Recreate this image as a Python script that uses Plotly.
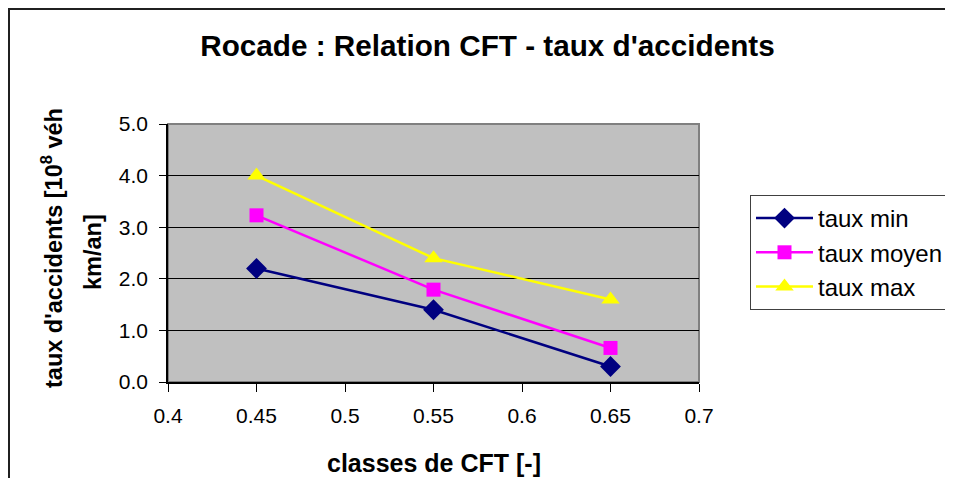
import plotly.graph_objects as go

cft = [0.45, 0.55, 0.65]
taux_min = [2.2, 1.4, 0.3]
taux_moyen = [3.23, 1.79, 0.66]
taux_max = [4.0, 2.4, 1.6]
x_ticks = [0.4, 0.45, 0.5, 0.55, 0.6, 0.65, 0.7]
x_labels = ["0.4", "0.45", "0.5", "0.55", "0.6", "0.65", "0.7"]
y_ticks = [0, 1, 2, 3, 4, 5]
y_labels = ["0.0", "1.0", "2.0", "3.0", "4.0", "5.0"]

# page body has an 8px margin; figure coordinates = screen - 8
OFF = 8
W, H = 937, 470
L, T = 168 - OFF, 124 - OFF
R = W - (699 - OFF)
B = H - (382 - OFF)
pw, ph = W - L - R, H - T - B


def px(xs):
    return (xs - OFF - L) / pw


def py(ys):
    return (H - B - (ys - OFF)) / ph


FONT = "Liberation Sans, Arial, sans-serif"

fig = go.Figure()
fig.add_trace(go.Scatter(x=cft, y=taux_min, name="taux min", mode="lines+markers",
                         line=dict(color="#000080", width=2.5),
                         marker=dict(symbol="diamond", size=16, color="#000080")))
fig.add_trace(go.Scatter(x=cft, y=taux_moyen, name="taux moyen", mode="lines+markers",
                         line=dict(color="#ff00ff", width=2.5),
                         marker=dict(symbol="square", size=14, color="#ff00ff")))
fig.add_trace(go.Scatter(x=cft, y=taux_max, name="taux max", mode="lines+markers",
                         line=dict(color="#ffff00", width=2.5),
                         marker=dict(symbol="triangle-up", size=16, color="#ffff00")))

fig.update_layout(
    width=W, height=H,
    margin=dict(l=L, r=R, t=T, b=B, autoexpand=False),
    paper_bgcolor="white",
    plot_bgcolor="#c0c0c0",
    font=dict(family=FONT, size=21, color="black"),
    showlegend=True,
    title=dict(text="<b>Rocade : Relation CFT - taux d'accidents</b>",
               x=(487.5 - OFF) / W, xref="container", xanchor="center",
               y=1 - (46 - OFF) / H, yref="container", yanchor="middle",
               font=dict(size=29.7)),
    xaxis=dict(range=[0.4, 0.7], tickvals=x_ticks, ticktext=x_labels,
               showgrid=False, zeroline=False, showline=True, linecolor="black",
               linewidth=1.5, ticks="outside", ticklen=8, tickcolor="black",
               ticklabelstandoff=6, tickfont=dict(size=21), automargin=False),
    yaxis=dict(range=[0, 5], tickvals=y_ticks, ticktext=y_labels,
               showgrid=True, gridcolor="black", gridwidth=1, zeroline=False,
               showline=True, linecolor="black", linewidth=1.5,
               ticks="outside", ticklen=7, tickcolor="black",
               ticklabelstandoff=7, tickfont=dict(size=21), automargin=False),
    legend=dict(x=px(750), y=py(195), xanchor="left", yanchor="top",
                bordercolor="#404040", borderwidth=1, bgcolor="white",
                font=dict(size=24), tracegroupgap=0, itemwidth=57),
    annotations=[
        dict(text="<b>classes de CFT [-]</b>", xref="paper", yref="paper",
             x=px(434), y=py(463), xanchor="center", yanchor="middle",
             showarrow=False, font=dict(size=25)),
        dict(text="<b>taux d'accidents [10<sup>8</sup> véh</b>", xref="paper", yref="paper",
             x=px(52), y=py(248), xanchor="center", yanchor="middle", textangle=-90,
             showarrow=False, font=dict(size=23.5)),
        dict(text="<b>km/an]</b>", xref="paper", yref="paper",
             x=px(93), y=py(252), xanchor="center", yanchor="middle", textangle=-90,
             showarrow=False, font=dict(size=23.5)),
    ],
    shapes=[
        dict(type="rect", xref="paper", yref="paper", x0=0, x1=1, y0=0, y1=1,
             line=dict(color="#808080", width=2), layer="below"),
        dict(type="line", xref="paper", yref="paper",
             x0=px(8), x1=px(953), y0=py(9), y1=py(9),
             line=dict(color="#202020", width=2)),
        dict(type="line", xref="paper", yref="paper",
             x0=px(9), x1=px(9), y0=py(8), y1=py(501),
             line=dict(color="#202020", width=2)),
    ],
)

fig.write_html("out.html")
